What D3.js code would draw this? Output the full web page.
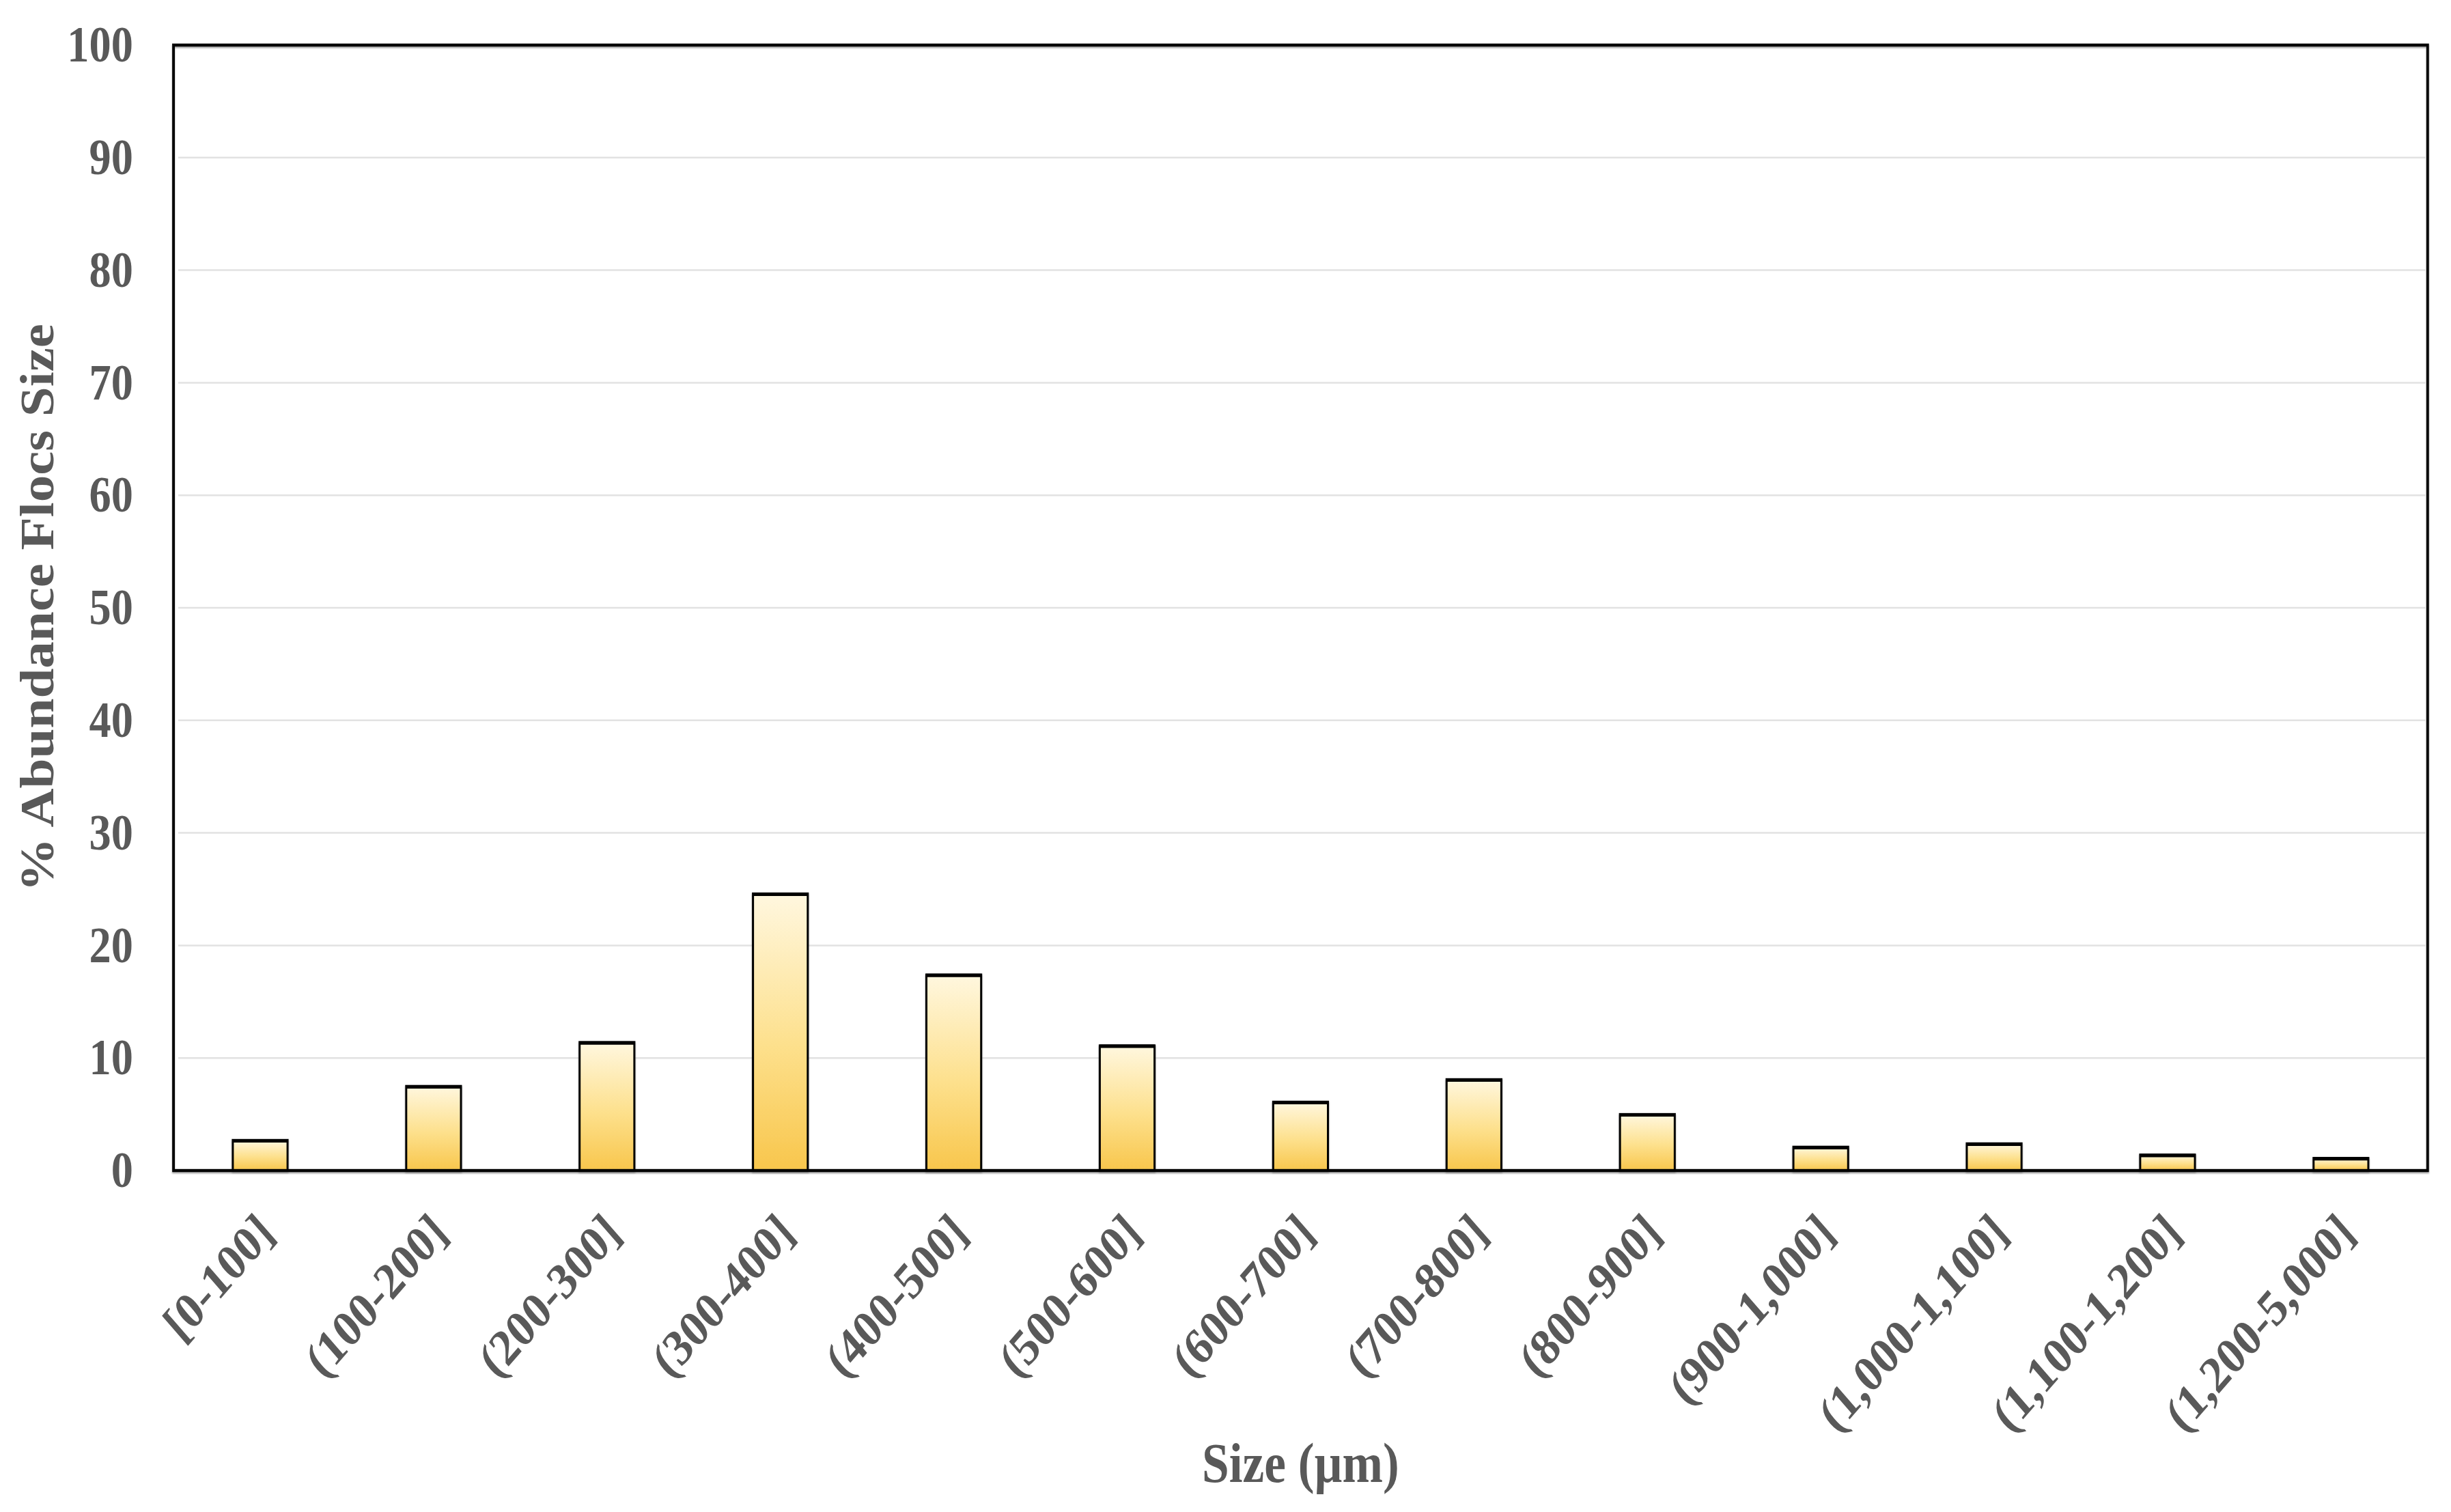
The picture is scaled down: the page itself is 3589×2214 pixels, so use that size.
<!DOCTYPE html>
<html><head><meta charset="utf-8">
<script src="https://cdn.jsdelivr.net/npm/d3@7"></script>
<style>body{margin:0;background:#fff}</style></head><body>
<script>
const categories = ["[0-100]","(100-200]","(200-300]","(300-400]","(400-500]","(500-600]","(600-700]","(700-800]","(800-900]","(900-1,000]","(1,000-1,100]","(1,100-1,200]","(1,200-5,000]"];
const values = [2.7,7.5,11.4,24.6,17.4,11.1,6.1,8.1,5.0,2.1,2.4,1.4,1.1];
const yTicks = [0,10,20,30,40,50,60,70,80,90,100];
const xTitle = "Size (µm)";
const yTitle = "% Abundance Flocs Size";

const W = 3589, H = 2214, SX = 0.87;
const m = {left: 292, right: 4086, top: 66, bottom: 1714};
const textColor = "#595959";
const font = "'Liberation Serif', 'Times New Roman', serif";

const svg = d3.select("body").append("svg").attr("width", W).attr("height", H);
const defs = svg.append("defs");
const grad = defs.append("linearGradient").attr("id", "barGrad").attr("x1", 0).attr("y1", 0).attr("x2", 0).attr("y2", 1);
grad.append("stop").attr("offset", "0%").attr("stop-color", "#fff7df");
grad.append("stop").attr("offset", "55%").attr("stop-color", "#fde08c");
grad.append("stop").attr("offset", "100%").attr("stop-color", "#f8c64c");
const sh = defs.append("filter").attr("id", "shadow").attr("x", "-5%").attr("y", "-5%").attr("width", "110%").attr("height", "110%");
sh.append("feDropShadow").attr("dx", 0).attr("dy", 2).attr("stdDeviation", 1.2).attr("flood-color", "#777").attr("flood-opacity", 0.7);

const g = svg.append("g").attr("transform", `scale(${SX},1)`);

const x = d3.scaleBand().domain(categories).range([m.left, m.right]).paddingInner(0.684).paddingOuter(0.342);
const y = d3.scaleLinear().domain([0, 100]).range([m.bottom, m.top]);

// gridlines
g.append("g").selectAll("line").data(yTicks.filter(d => d > 0 && d < 100)).join("line")
  .attr("x1", m.left + 8).attr("x2", m.right - 4)
  .attr("y1", d => y(d)).attr("y2", d => y(d))
  .attr("stroke", "#e2e2e2").attr("stroke-width", 2.5);

// bars
const bars = g.append("g").attr("filter", "url(#shadow)");
bars.selectAll("rect").data(values).join("rect")
  .attr("x", (d, i) => x(categories[i]))
  .attr("width", x.bandwidth())
  .attr("y", d => y(d))
  .attr("height", d => y(0) - y(d))
  .attr("fill", "url(#barGrad)")
  .attr("stroke", "#000").attr("stroke-width", 3.5);
// thicker top edge
bars.selectAll("line").data(values).join("line")
  .attr("x1", (d, i) => x(categories[i]))
  .attr("x2", (d, i) => x(categories[i]) + x.bandwidth())
  .attr("y1", d => y(d) + 1).attr("y2", d => y(d) + 1)
  .attr("stroke", "#000").attr("stroke-width", 5);

// frame
g.append("rect").attr("x", m.left).attr("y", m.top).attr("width", m.right - m.left).attr("height", m.bottom - m.top)
  .attr("fill", "none").attr("stroke", "#000").attr("stroke-width", 4.5).attr("filter", "url(#shadow)");

// y axis
const ya = g.append("g").attr("transform", `translate(${m.left},0)`)
  .call(d3.axisLeft(y).tickValues(yTicks).tickSize(0).tickPadding(68));
ya.select(".domain").remove();
ya.selectAll("text").attr("fill", textColor).style("font-family", font).style("font-weight", "bold").style("font-size", "74px");

// x axis
const xa = g.append("g").attr("transform", `translate(0,${m.bottom})`)
  .call(d3.axisBottom(x).tickSize(0));
xa.select(".domain").remove();
xa.selectAll("text")
  .attr("y", 0).attr("dy", "0.35em")
  .attr("transform", "translate(8,76) rotate(-45)")
  .attr("text-anchor", "end")
  .attr("fill", textColor).style("font-family", font).style("font-weight", "bold").style("font-size", "75px");

// titles
g.append("text").attr("transform", `translate(63,${(m.top + m.bottom) / 2}) rotate(-90)`)
  .attr("text-anchor", "middle").attr("dominant-baseline", "central")
  .attr("fill", textColor).style("font-family", font).style("font-weight", "bold").style("font-size", "79px")
  .text(yTitle);

g.append("text").attr("x", (m.left + m.right) / 2).attr("y", 2170)
  .attr("text-anchor", "middle")
  .attr("fill", textColor).style("font-family", font).style("font-weight", "bold").style("font-size", "82px")
  .text(xTitle);
</script>
</body></html>
